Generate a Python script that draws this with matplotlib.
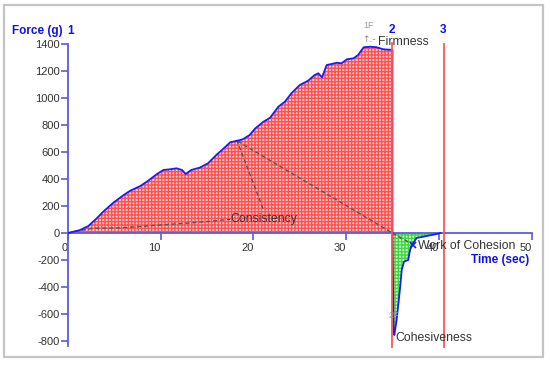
import matplotlib
matplotlib.use("Agg")
import matplotlib.pyplot as plt
from matplotlib.patches import Rectangle
import numpy as np

# ---- data ----
time_up = [0, 0.14, 1.3, 2.2, 3.1, 3.8, 4.9, 6.0, 6.7, 7.8, 8.5, 9.6, 10.3, 11.0, 11.7,
           12.3, 12.7, 13.3, 14.2, 15.1, 16.0, 16.8, 17.5, 18.6, 18.9, 19.6, 20.2, 21.1,
           21.8, 22.7, 23.4, 24.1, 25.0, 25.9, 26.6, 27.0, 27.4, 27.9, 29.0, 29.5, 30.1,
           30.8, 31.3, 31.9, 32.6, 33.3, 34.0, 35.0]
force_up = [0, 2, 22, 52, 109, 158, 225, 281, 313, 348, 380, 437, 467, 472, 479,
            467, 437, 467, 484, 516, 578, 627, 672, 689, 696, 726, 775, 825,
            854, 936, 973, 1035, 1096, 1128, 1170, 1183, 1153, 1244, 1261, 1257, 1287,
            1294, 1319, 1376, 1380, 1376, 1361, 1356]
time_down = [35.0, 35.05, 35.12, 35.2, 35.45, 35.8, 36.0, 36.25, 36.7, 36.9, 37.1,
             37.6, 38.7, 39.8, 40.2]
force_down = [0, -300, -720, -756, -644, -422, -274, -212, -200, -126, -89,
              -37, -22, -7, 0]

consist_t = [0, 0.6, 2.7, 5.6, 9.9, 13.5, 17.5]
consist_f = [0, 10, 35, 38, 59, 76, 101]

marker_2 = 35.0
marker_3 = 40.6

x_ticks = [0, 10, 20, 30, 40, 50]
y_ticks = [1400, 1200, 1000, 800, 600, 400, 200, 0, -200, -400, -600, -800]

# ---- figure ----
plt.rcParams['hatch.linewidth'] = 1.0
fig = plt.figure(figsize=(5.5, 3.65), dpi=100)
fig.patch.set_facecolor('white')
fig.patches.append(Rectangle((4/550, 1 - 357/365), 539/550, 352/365, transform=fig.transFigure,
                             fill=False, edgecolor='#c4c4c4', linewidth=1.6))

ax = fig.add_axes([68/550, (365-349.1)/365, 463.5/550, 310.5/365])
ax.set_xlim(0, 50)
ax.set_ylim(-860, 1440)
ax.patch.set_alpha(0)

axis_col = '#5a5ae0'
for s in ['top', 'right']:
    ax.spines[s].set_visible(False)
ax.spines['left'].set_position(('data', 0))
ax.spines['bottom'].set_position(('data', 0))
ax.spines['left'].set_bounds(-835, 1400)
ax.spines['bottom'].set_bounds(0, 50)
ax.spines['left'].set_color(axis_col)
ax.spines['bottom'].set_color(axis_col)
ax.spines['left'].set_linewidth(1.3)
ax.spines['bottom'].set_linewidth(1.3)

ax.set_xticks(x_ticks)
ax.set_yticks(y_ticks)
ax.set_yticklabels([str(v) for v in y_ticks])
ax.set_xticklabels([str(v) for v in x_ticks])
ax.tick_params(axis='both', direction='out', length=5, width=1.2, color=axis_col,
               labelsize=8, labelcolor='#333333')
ax.tick_params(axis='x', pad=2)
ax.tick_params(axis='y', pad=1)
for lab in ax.get_xticklabels():
    lab.set_horizontalalignment('right')
    lab.set_fontfamily('Liberation Sans')
for lab in ax.get_yticklabels():
    lab.set_fontfamily('Liberation Sans')

# fills
ax.fill_between(time_up, force_up, 0, facecolor='#ffcfcf', edgecolor='#ff5050',
                hatch='+++++', linewidth=0, zorder=1)
ax.fill_between(time_down, force_down, 0, facecolor='#d8ffd8', edgecolor='#3cd83c',
                hatch='+++++', linewidth=0, zorder=1)

# dashed helper lines
dash = dict(color='#555555', linewidth=1.0, linestyle=(0, (3, 2)), zorder=3)
ax.plot(consist_t, consist_f, **dash)
ax.plot([18.2, 21.1], [690, 170], **dash)
ax.plot([18.3, 35.0], [680, 0], **dash)
ax.plot([35.0, 37.2], [0, -85], **dash)

# main curve
ax.plot(time_up + time_down, force_up + force_down, color='#1a1aff', linewidth=1.3, zorder=4)
ax.plot([37.25], [-87], marker='x', color='#1a1aff', markersize=4, mew=1.2, zorder=5)

# markers 2 and 3
ax.plot([marker_2, marker_2], [-845, 1410], color='#ff5555', linewidth=1.3, zorder=4, clip_on=False)
ax.plot([marker_3, marker_3], [-845, 1400], color='#ff5555', linewidth=1.3, zorder=4, clip_on=False)

blue = '#1010ee'
lbl = dict(color=blue, fontsize=8.5, fontweight='bold', family='Liberation Sans')
fig.text(63/550, 1 - 31/365, 'Force (g)', ha='right', va='center', **lbl)
fig.text(67/550, 1 - 31/365, '1', ha='left', va='center', **lbl)
fig.text(392/550, 1 - 30/365, '2', ha='center', va='center', **lbl)
fig.text(443/550, 1 - 30/365, '3', ha='center', va='center', **lbl)
fig.text(529/550, 1 - 260/365, 'Time (sec)', ha='right', va='center', **lbl)

ann = dict(color='#333333', fontsize=8.8, family='Liberation Sans', zorder=6)
fig.text(378/550, 1 - 42/365, 'Firmness', ha='left', va='center', **ann)
fig.text(230/550, 1 - 219/365, 'Consistency', ha='left', va='center', **ann)
fig.text(418/550, 1 - 246/365, 'Work of Cohesion', ha='left', va='center', **ann)
fig.text(395/550, 1 - 338/365, 'Cohesiveness', ha='left', va='center', **ann)

gray = dict(color='#999999', fontsize=6.5, family='Liberation Sans')
fig.text(369/550, 1 - 25/365, '1F', ha='center', va='center', **gray)
fig.text(394/550, 1 - 316/365, '2F', ha='center', va='center', **gray)
fig.text(369/550, 1 - 40/365, '↑.-', ha='center', va='center', color='#888888',
         fontsize=6.5, family='DejaVu Sans')

fig.savefig('out.png', dpi=100)
